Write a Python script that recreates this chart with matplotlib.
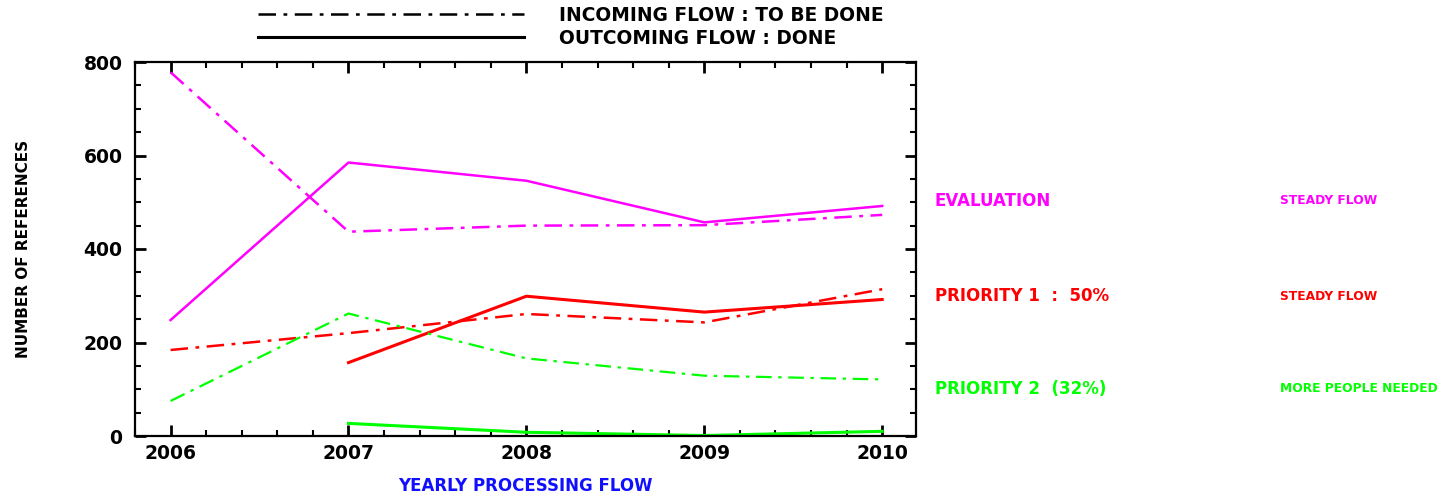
import numpy as np
from matplotlib import pyplot as plt
from matplotlib.lines import Line2D
from matplotlib.ticker import MultipleLocator

years = [2006, 2007, 2008, 2009, 2010]
years_out = [2007, 2008, 2009, 2010]

# incoming flow (to be done)
eval_in = [778, 437, 450, 451, 473]
prio1_in = [184, 220, 261, 243, 314]
prio2_in = [75, 262, 166, 129, 121]

# outgoing flow (done)
eval_out = [248, 585, 546, 457, 492]
prio1_out = [157, 299, 265, 292]
prio2_out = [27, 8, 1, 10]

MAG = "#ff00ff"
RED = "#ff0000"
GRN = "#00ff00"
DASHDOT = (0, (7, 3, 1.5, 3))


def main():
    fig = plt.figure(figsize=(14.43, 4.93), dpi=100)
    ax = fig.add_axes([135 / 1443, 57 / 493, 781 / 1443, 374 / 493])

    ax.plot(years, eval_in, color=MAG, lw=1.8, linestyle=DASHDOT)
    ax.plot(years, eval_out, color=MAG, lw=1.8)
    ax.plot(years, prio1_in, color=RED, lw=1.8, linestyle=DASHDOT)
    ax.plot(years_out, prio1_out, color=RED, lw=2.2)
    ax.plot(years, prio2_in, color=GRN, lw=1.6, linestyle=DASHDOT)
    ax.plot(years_out, prio2_out, color=GRN, lw=2.2)

    ax.set_xlim(2005.80, 2010.19)
    ax.set_ylim(0, 800)
    ax.xaxis.set_major_locator(MultipleLocator(1))
    ax.xaxis.set_minor_locator(MultipleLocator(0.2))
    ax.yaxis.set_major_locator(MultipleLocator(200))
    ax.yaxis.set_minor_locator(MultipleLocator(50))
    ax.tick_params(which="both", direction="in", top=True, right=True, color="black")
    ax.tick_params(which="major", length=8, width=2)
    ax.tick_params(which="minor", length=4, width=1.5)
    ax.tick_params(axis="x", which="major", pad=6)
    ax.tick_params(axis="y", which="major", pad=9)
    for lab in ax.get_xticklabels() + ax.get_yticklabels():
        lab.set_fontsize(13.5)
        lab.set_fontweight("bold")
    for sp in ax.spines.values():
        sp.set_linewidth(1.6)

    ax.set_xlabel("YEARLY PROCESSING FLOW", color="#1010ff", fontsize=12,
                  fontweight="bold", labelpad=10)
    ax.set_ylabel("NUMBER OF REFERENCES", fontsize=11, fontweight="bold",
                  labelpad=38)

    # legend on top
    handles = [Line2D([], [], color="black", lw=1.8, linestyle=(0, (7, 3, 1.5, 3))),
               Line2D([], [], color="black", lw=2.2)]
    fig.legend(handles, ["INCOMING FLOW : TO BE DONE", "OUTCOMING FLOW : DONE"],
               loc="upper left", bbox_to_anchor=(241 / 1443, 1.022), frameon=False,
               handlelength=14.3, handletextpad=1.9, labelspacing=0.2,
               prop={"size": 13.4, "weight": "bold"})

    # notes on the right
    notes = [("EVALUATION", "STEADY FLOW", MAG, 201),
             ("PRIORITY 1  :  50%", "STEADY FLOW", RED, 296),
             ("PRIORITY 2  (32%)", "MORE PEOPLE NEEDED", GRN, 389)]
    for name, comment, col, py in notes:
        fig.text(935 / 1443, 1 - py / 493, name, color=col, fontsize=12,
                 fontweight="bold", va="center")
        fig.text(1280 / 1443, 1 - py / 493, comment, color=col, fontsize=8.8,
                 fontweight="bold", va="center")

    fig.savefig("out.png", dpi=100)


if __name__ == "__main__":
    main()
